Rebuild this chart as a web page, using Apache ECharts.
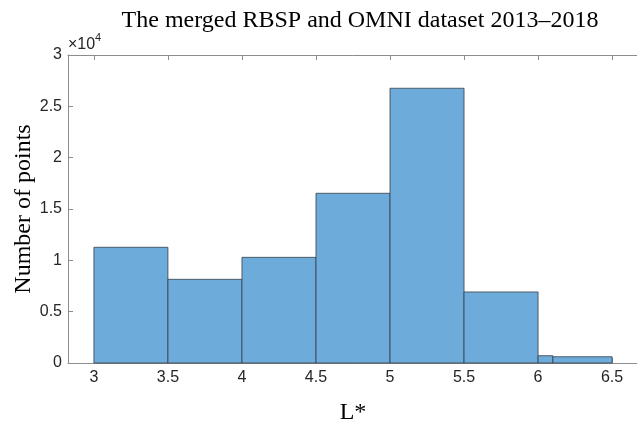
<!DOCTYPE html>
<html>
<head>
<meta charset="utf-8">
<script src="https://cdn.jsdelivr.net/npm/echarts@6/dist/echarts.min.js"></script>
<style>html,body{margin:0;padding:0;background:#fff}#c{width:637px;height:427px}</style>
</head>
<body>
<div id="c"></div>
<script>
var binStart = [3.0, 3.5, 4.0, 4.5, 5.0, 5.5, 6.0, 6.1];
var binEnd   = [3.5, 4.0, 4.5, 5.0, 5.5, 6.0, 6.1, 6.5];
var counts   = [11270, 8150, 10290, 16530, 26760, 6920, 710, 610];
var xTicks = [3, 3.5, 4, 4.5, 5, 5.5, 6, 6.5];

var data = binStart.map(function (s, i) { return [s, binEnd[i], counts[i]]; });
var chart = echarts.init(document.getElementById('c'));
var axisCol = '#8c8c8c';
var labelCol = '#262626';
chart.setOption({
  animation: false,
  title: [{
    text: 'The merged RBSP and OMNI dataset 2013\u20132018',
    left: 355, top: 4, textAlign: 'center',
    textStyle: { fontFamily: 'Liberation Serif', fontSize: 24, fontWeight: 'normal', color: '#000' }
  }, {
    text: '\u00d710',
    left: 68, top: 37, padding: 0,
    textStyle: { fontFamily: 'Liberation Sans', fontSize: 16, fontWeight: 'normal', color: labelCol }
  }, {
    text: '4',
    left: 95, top: 32, padding: 0,
    textStyle: { fontFamily: 'Liberation Sans', fontSize: 11, fontWeight: 'normal', color: labelCol }
  }],
  grid: { left: 68, top: 55, width: 570, height: 308, outerBoundsMode: 'none', containLabel: false },
  xAxis: [{
    type: 'value', min: 2.825, max: 6.675,
    name: 'L*', nameLocation: 'middle', nameGap: 38, nameMoveOverlap: false,
    nameTextStyle: { fontFamily: 'Liberation Serif', fontSize: 24, color: '#000' },
    axisLine: { show: true, lineStyle: { color: axisCol, width: 1 } },
    axisTick: { show: true, inside: true, length: 5, customValues: xTicks, lineStyle: { color: axisCol } },
    axisLabel: { customValues: xTicks, fontFamily: 'Liberation Sans', fontSize: 16, color: labelCol, margin: 7 },
    splitLine: { show: false }
  }, {
    type: 'value', position: 'top', min: 2.825, max: 6.675,
    axisLine: { show: true, onZero: false, lineStyle: { color: axisCol, width: 1 } },
    axisTick: { show: true, inside: true, length: 5, customValues: xTicks, lineStyle: { color: axisCol } },
    axisLabel: { show: false },
    splitLine: { show: false }
  }],
  yAxis: {
    type: 'value', min: 0, max: 30000, interval: 5000,
    name: 'Number of points', nameLocation: 'middle', nameGap: 32, nameMoveOverlap: false,
    nameTextStyle: { fontFamily: 'Liberation Serif', fontSize: 24, color: '#000' },
    axisLine: { show: true, lineStyle: { color: axisCol, width: 1 } },
    axisTick: { show: true, inside: true, length: 5, lineStyle: { color: axisCol } },
    axisLabel: {
      fontFamily: 'Liberation Sans', fontSize: 16, color: labelCol, margin: 6,
      formatter: function (v) { return String(v / 10000); }
    },
    splitLine: { show: false }
  },
  series: [{
    type: 'custom',
    xAxisIndex: 0,
    data: data,
    encode: { x: [0, 1], y: 2 },
    renderItem: function (params, api) {
      var p0 = api.coord([api.value(0), api.value(2)]);
      var p1 = api.coord([api.value(1), 0]);
      return {
        type: 'rect',
        shape: { x: p0[0], y: p0[1], width: p1[0] - p0[0], height: p1[1] - p0[1] },
        style: { fill: '#6dabda', stroke: '#36404a', lineWidth: 0.8 }
      };
    }
  }]
});
</script>
</body>
</html>
